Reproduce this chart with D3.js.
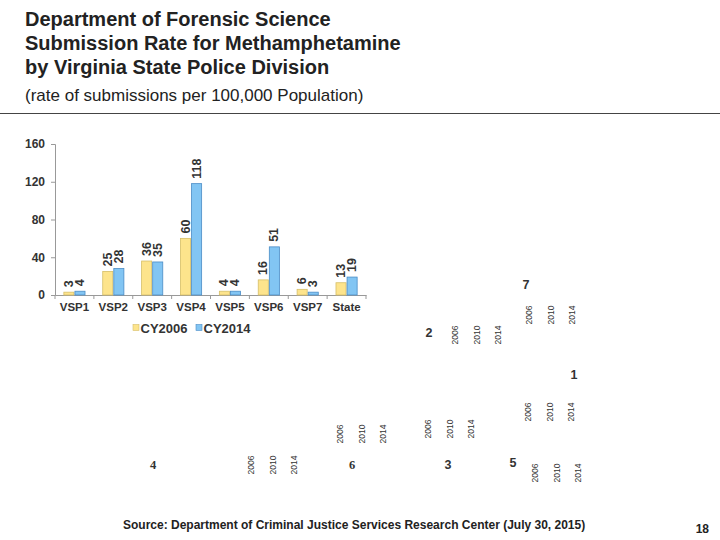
<!DOCTYPE html>
<html>
<head>
<meta charset="utf-8">
<script src="https://cdn.jsdelivr.net/npm/d3@7/dist/d3.min.js"></script>
<style>
  body { margin: 0; background: #fff; }
  svg { display: block; font-family: "Liberation Sans", Arial, sans-serif; }
</style>
</head>
<body>
<div id="chart"></div>
<script>
// chart data
const divisions = ["VSP1", "VSP2", "VSP3", "VSP4", "VSP5", "VSP6", "VSP7", "State"];
const rate2006 = [3, 25, 36, 60, 4, 16, 6, 13];
const rate2014 = [4, 28, 35, 118, 4, 51, 3, 19];
const seriesNames = ["CY2006", "CY2014"];
const yTicks = [0, 40, 80, 120, 160];

// stray map labels left on the slide
const regionLabels = ["7", "2", "1", "3", "5", "4", "6"];
const yearLabels = ["2006", "2010", "2014"];

const titleLines = [
    "Department of Forensic Science",
    "Submission Rate for Methamphetamine",
    "by Virginia State Police Division"
];
const subtitle = "(rate of submissions per 100,000 Population)";
const source = "Source:  Department of Criminal Justice Services Research Center (July 30, 2015)";
const pageNumber = "18";

// layout of the stray labels
var regionPos = {
    "7": [526, 285, "sans"], "2": [429, 333, "sans"], "1": [574, 375, "sans"],
    "3": [448, 465, "sans"], "5": [513, 463, "sans"], "4": [153, 465, "serif"],
    "6": [352, 465, "serif"]
};
var yearGroups = [[529, 315], [455, 335], [528, 412], [428, 429], [535, 473], [251, 465], [340, 434]];
var yearStep = 21.5;

var width = 720, height = 540;
var svg = d3.select("#chart").append("svg")
    .attr("width", width)
    .attr("height", height);

// title block
svg.selectAll("text.title")
    .data(titleLines)
    .enter().append("text")
    .attr("class", "title")
    .attr("x", 25)
    .attr("y", (d, i) => 26 + i * 24)
    .style("font-size", "20px")
    .style("font-weight", "bold")
    .style("fill", "#222")
    .text(d => d);

svg.append("text")
    .attr("x", 25)
    .attr("y", 101)
    .style("font-size", "17px")
    .style("fill", "#222")
    .text(subtitle);

svg.append("line")
    .attr("x1", 0).attr("x2", width)
    .attr("y1", 113.5).attr("y2", 113.5)
    .style("stroke", "#444")
    .style("stroke-width", 1);

// bar chart
var x0 = d3.scaleBand()
    .domain(divisions)
    .range([55, 366])
    .paddingInner(0.43)
    .paddingOuter(0.215);
var x1 = d3.scaleBand()
    .domain(seriesNames)
    .range([0, x0.bandwidth()]);
var y = d3.scaleLinear()
    .domain([0, 160])
    .range([295, 144]);

var colors = { CY2006: "#fde48c", CY2014: "#82c5f3" };
var strokes = { CY2006: "#d6bf68", CY2014: "#4a8cc6" };

var yAxis = svg.append("g")
    .attr("transform", "translate(55,0)")
    .call(d3.axisLeft(y).tickValues(yTicks).tickSize(4).tickPadding(6));
yAxis.select(".domain").style("stroke", "#999");
yAxis.selectAll(".tick line").style("stroke", "#999");
yAxis.selectAll(".tick text")
    .style("font-size", "12px")
    .style("font-weight", "bold")
    .style("fill", "#333")
    .style("font-family", "Liberation Sans, Arial, sans-serif");

var xAxis = svg.append("g")
    .attr("transform", "translate(0," + y(0) + ")")
    .call(d3.axisBottom(x0).tickSize(0).tickPadding(8).tickSizeOuter(0));
xAxis.select(".domain").style("stroke", "#999");
xAxis.selectAll(".tick text")
    .style("font-size", "11.5px")
    .style("font-weight", "bold")
    .style("fill", "#333")
    .style("font-family", "Liberation Sans, Arial, sans-serif");

// small separators between categories
svg.append("g").selectAll("line")
    .data(divisions.concat(["end"]))
    .enter().append("line")
    .attr("x1", (d, i) => 55 + i * x0.step())
    .attr("x2", (d, i) => 55 + i * x0.step())
    .attr("y1", y(0))
    .attr("y2", y(0) + 4)
    .style("stroke", "#999");

var rows = divisions.map((d, i) => ({
    name: d,
    values: [
        { key: "CY2006", value: rate2006[i] },
        { key: "CY2014", value: rate2014[i] }
    ]
}));

var groups = svg.selectAll("g.division")
    .data(rows)
    .enter().append("g")
    .attr("class", "division")
    .attr("transform", d => "translate(" + x0(d.name) + ",0)");

groups.selectAll("rect")
    .data(d => d.values)
    .enter().append("rect")
    .attr("x", d => x1(d.key) + 0.5)
    .attr("width", x1.bandwidth() - 1)
    .attr("y", d => y(d.value))
    .attr("height", d => y(0) - y(d.value))
    .style("fill", d => colors[d.key])
    .style("stroke", d => strokes[d.key])
    .style("stroke-width", 0.8);

groups.selectAll("text.value")
    .data(d => d.values)
    .enter().append("text")
    .attr("class", "value")
    .attr("transform", d => "translate(" + (x1(d.key) + x1.bandwidth() / 2) + "," + (y(d.value) - 5) + ") rotate(-90)")
    .attr("dominant-baseline", "central")
    .style("font-size", "12.5px")
    .style("font-weight", "bold")
    .style("fill", "#333")
    .text(d => d.value);

// legend
var legend = svg.selectAll("g.legend")
    .data(seriesNames)
    .enter().append("g")
    .attr("class", "legend")
    .attr("transform", (d, i) => "translate(" + (133 + i * 63) + ",328)");
legend.append("rect")
    .attr("x", 0).attr("y", -3.5)
    .attr("width", 6).attr("height", 6)
    .style("fill", d => colors[d])
    .style("stroke", d => strokes[d])
    .style("stroke-width", 0.6);
legend.append("text")
    .attr("x", 7.5)
    .attr("dominant-baseline", "central")
    .style("font-size", "13px")
    .style("font-weight", "bold")
    .style("fill", "#333")
    .text(d => d);

// leftover region numbers
svg.selectAll("text.region")
    .data(regionLabels)
    .enter().append("text")
    .attr("class", "region")
    .attr("x", d => regionPos[d][0])
    .attr("y", d => regionPos[d][1])
    .attr("text-anchor", "middle")
    .attr("dominant-baseline", "central")
    .style("font-family", d => regionPos[d][2] == "serif" ? "Liberation Serif, Times New Roman, serif" : "Liberation Sans, Arial, sans-serif")
    .style("font-size", "12.5px")
    .style("font-weight", "bold")
    .style("fill", "#333")
    .text(d => d);

// leftover year ticks
yearGroups.forEach(g => {
    svg.append("g").selectAll("text")
        .data(yearLabels)
        .enter().append("text")
        .attr("transform", (d, i) => "translate(" + (g[0] + i * yearStep) + "," + g[1] + ") rotate(-90)")
        .attr("text-anchor", "middle")
        .attr("dominant-baseline", "central")
        .style("font-size", "8.5px")
        .style("fill", "#333")
        .text(d => d);
});

// footer
svg.append("text")
    .attr("x", 123)
    .attr("y", 529)
    .style("font-family", "Liberation Sans Narrow, Arial Narrow, sans-serif")
    .style("font-size", "12px")
    .style("font-weight", "bold")
    .style("fill", "#222")
    .text(source);

svg.append("text")
    .attr("x", 709)
    .attr("y", 533)
    .attr("text-anchor", "end")
    .style("font-family", "Liberation Sans Narrow, Arial Narrow, sans-serif")
    .style("font-size", "12px")
    .style("font-weight", "bold")
    .style("fill", "#222")
    .text(pageNumber);
</script>
</body>
</html>
